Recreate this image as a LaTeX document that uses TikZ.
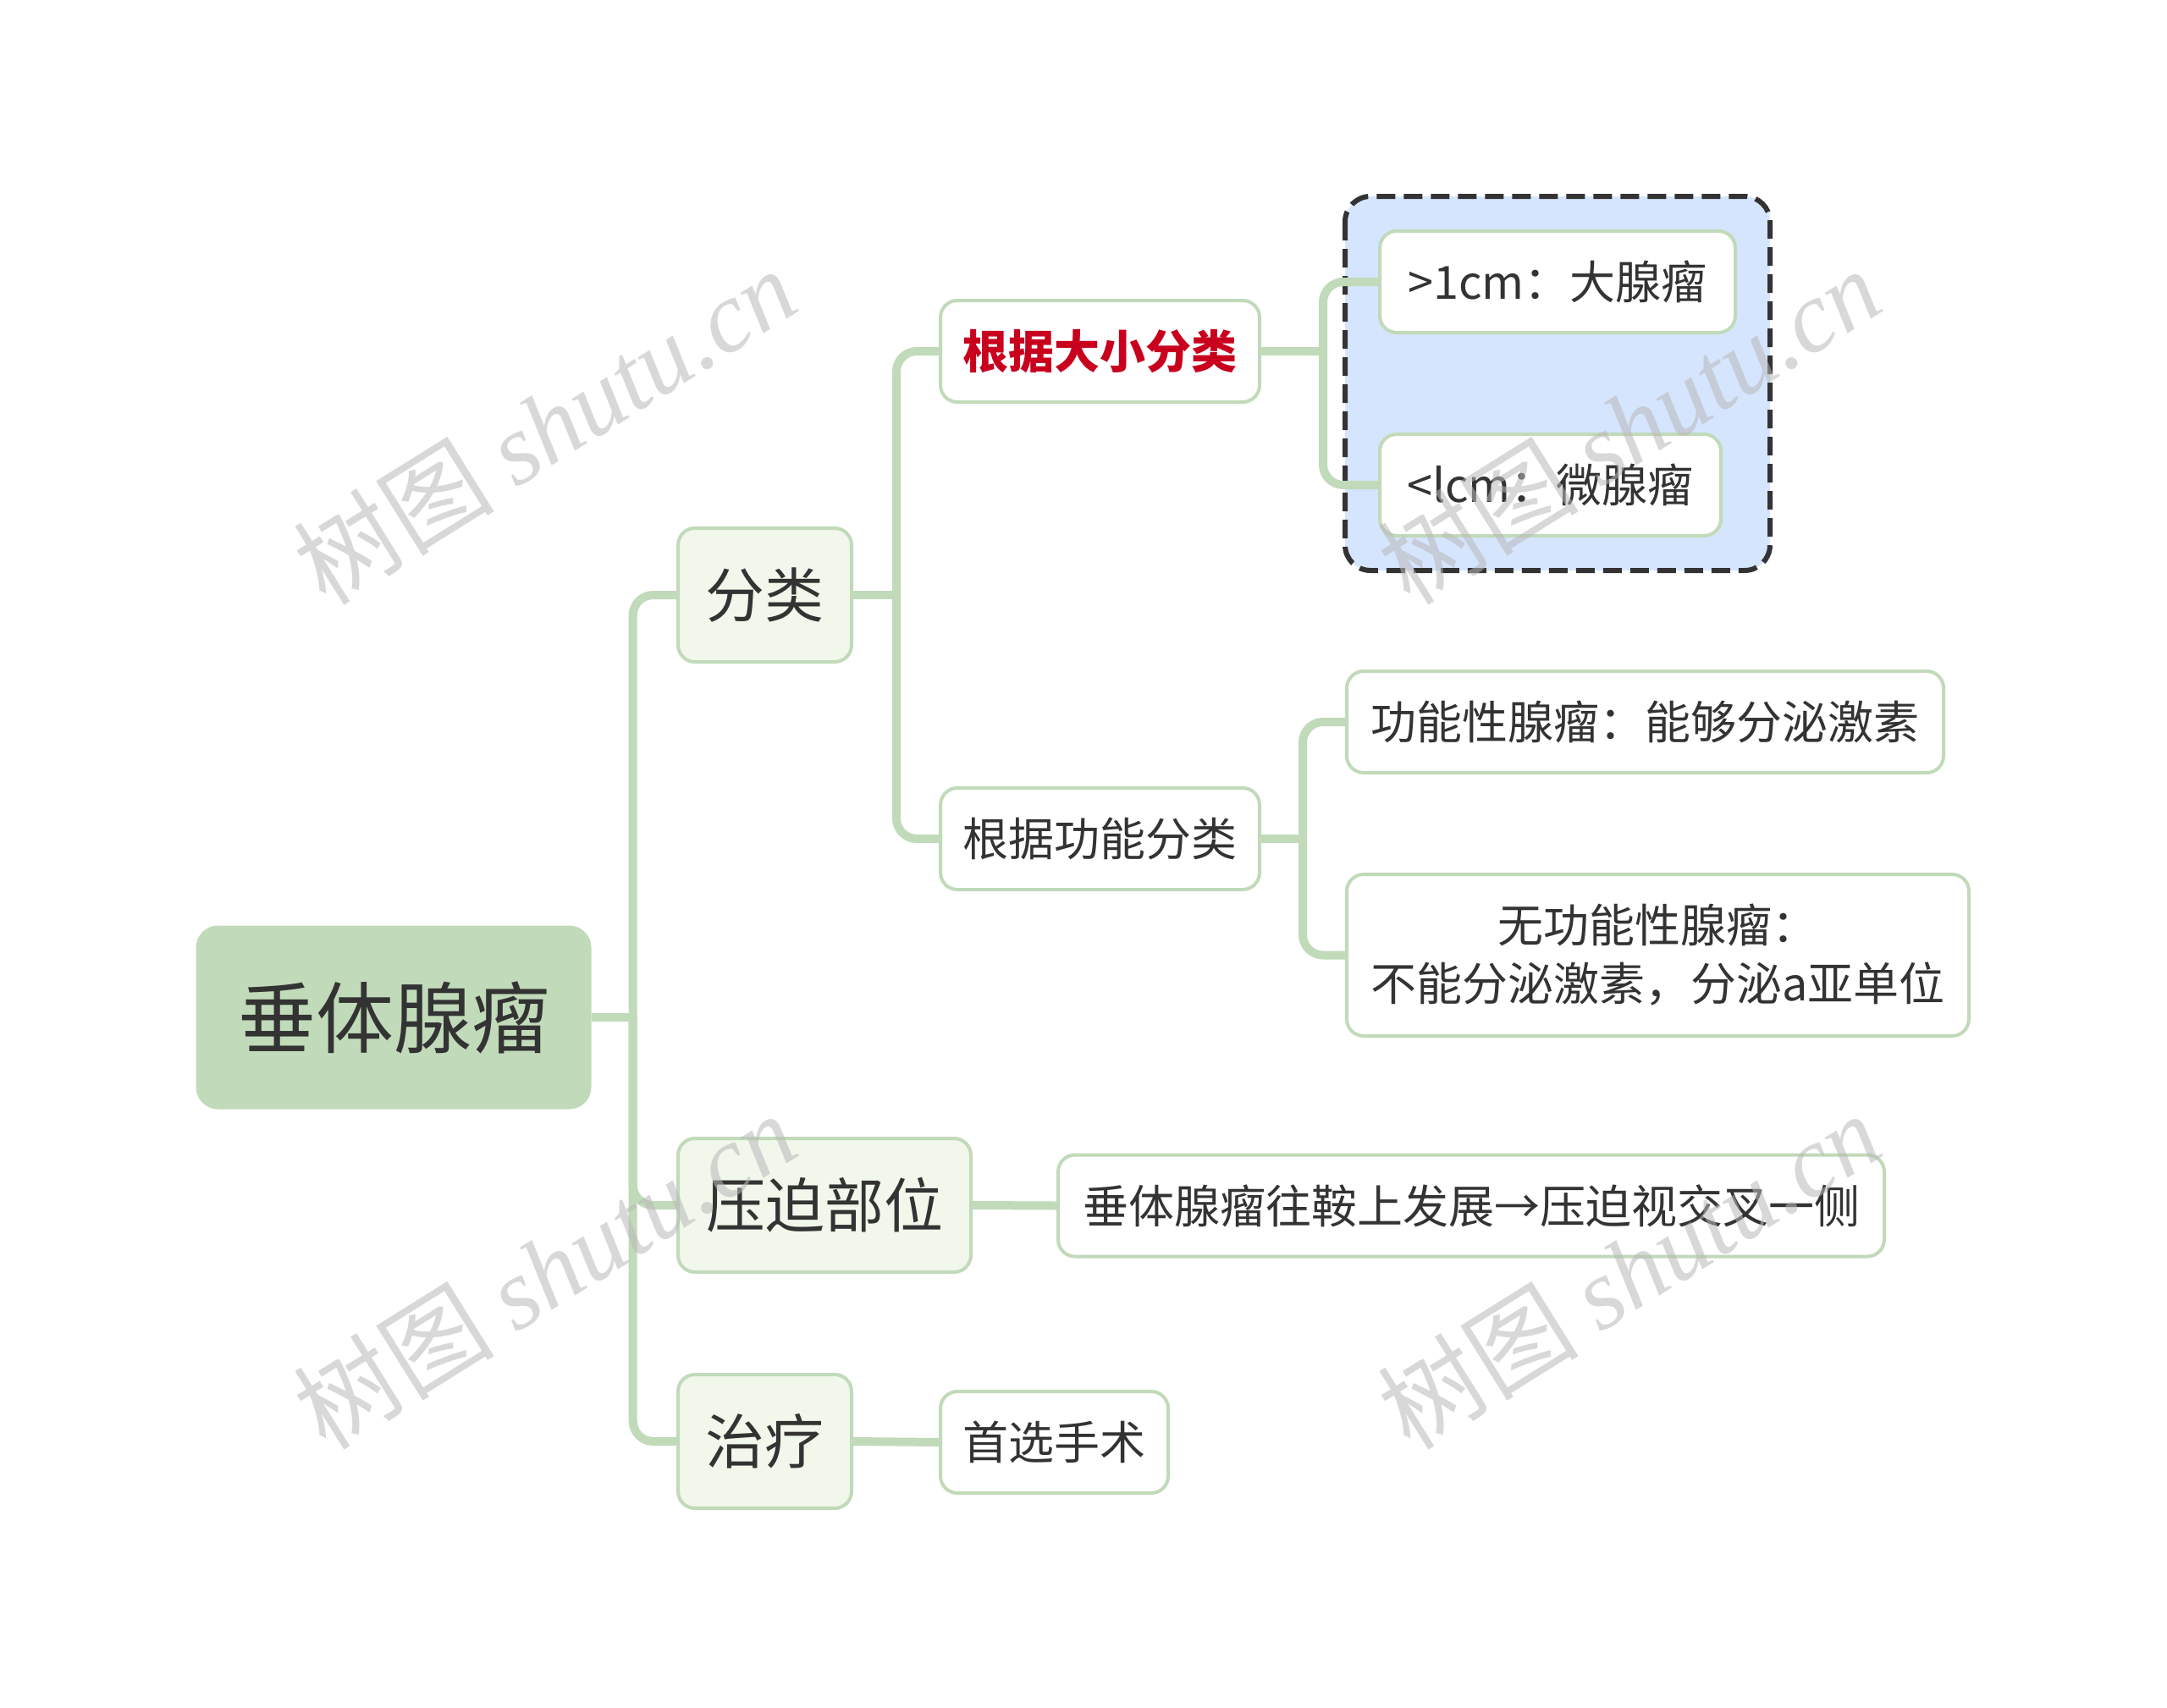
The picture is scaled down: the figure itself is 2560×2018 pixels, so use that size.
\documentclass[tikz,border=0pt]{standalone}
\usepackage{fontspec}
\setmainfont{Noto Sans CJK SC}
\newfontfamily\wmlatin{Liberation Serif}
\usetikzlibrary{calc}
\definecolor{rootfill}{HTML}{C1DAB9}
\definecolor{lonefill}{HTML}{F1F7EA}
\definecolor{lineg}{HTML}{C1DAB9}
\definecolor{txt}{HTML}{333333}
\definecolor{redtxt}{HTML}{C8001E}
\definecolor{bluefill}{HTML}{D5E5FD}
\definecolor{dashc}{HTML}{333333}
\definecolor{wm}{HTML}{B8B8B8}
\tikzset{
  rootbox/.style={rounded corners=26pt, fill=rootfill, draw=none, minimum width=467pt, minimum height=217pt, inner sep=0pt, text=txt, font=\fontsize{92}{110}\selectfont},
  lonebox/.style={rounded corners=20pt, fill=lonefill, draw=lineg, line width=4pt, minimum height=158pt, inner sep=0pt, text=txt, font=\fontsize{70}{84}\selectfont},
  ltwobox/.style={rounded corners=20pt, fill=white, draw=lineg, line width=4pt, minimum height=120pt, inner sep=0pt, text=txt, font=\fontsize{54}{69}\selectfont, align=center},
  conn/.style={draw=lineg, line width=10pt, rounded corners=24pt},
  stub/.style={draw=lineg, line width=10pt},
  wmtext/.style={text=wm, opacity=0.55, rotate=32, inner sep=0pt, font=\fontsize{119}{130}\selectfont}
}
\begin{document}
\begin{tikzpicture}[x=1pt,y=-1pt]
\useasboundingbox[fill=white] (0,0) rectangle (2560,2018);
% dashed group box
\draw[fill=bluefill, draw=dashc, line width=6pt, dash pattern=on 22pt off 10pt, rounded corners=30pt] (1589,232) rectangle (2091,674);
% nodes
\node[rootbox] (root) at (465,1202) {垂体腺瘤};
\node[lonebox, minimum width=205pt] (fl) at (903.5,703) {分类};
\node[lonebox, minimum width=346pt] (yp) at (974,1424) {压迫部位};
\node[lonebox, minimum width=205pt] (zl) at (903.5,1703) {治疗};
\node[ltwobox, minimum width=377pt, text=redtxt, font=\fontsize{54}{69}\selectfont\bfseries] (dx) at (1299.5,415) {根据大小分类};
\node[ltwobox, minimum width=377pt] (gn) at (1299.5,991) {根据功能分类};
\node[ltwobox, minimum width=420pt] (big) at (1840,333) {>1cm：大腺瘤};
\node[ltwobox, minimum width=403pt] (small) at (1831.5,573) {<lcm：微腺瘤};
\node[ltwobox, minimum width=705pt] (gnx) at (1943.5,853) {功能性腺瘤：能够分泌激素};
\node[ltwobox, minimum width=735pt, minimum height=191pt] (wgn) at (1958.5,1128.5) {无功能性腺瘤：\\不能分泌激素，分泌a亚单位};
\node[ltwobox, minimum width=976pt] (ypx) at (1738,1424.5) {垂体腺瘤往鞍上发展→压迫视交叉一侧};
\node[ltwobox, minimum width=269pt] (ss) at (1245.5,1704) {首选手术};
% junction points
\coordinate (jr) at ($(root.east)+(49,0)$);
\coordinate (jf) at ($(fl.east)+(51,0)$);
\coordinate (jd) at ($(dx.east)+(73,0)$);
\coordinate (jg) at ($(gn.east)+(49,0)$);
% connectors
\draw[stub] (root.east) -- (jr);
\draw[conn] (jr) |- (fl.west);
\draw[conn] (jr) |- (yp.west);
\draw[conn] (jr) |- (zl.west);
\draw[stub] (fl.east) -- (jf);
\draw[conn] (jf) |- (dx.west);
\draw[conn] (jf) |- (gn.west);
\draw[stub] (dx.east) -- (jd);
\draw[conn] (jd) |- (big.west);
\draw[conn] (jd) |- (small.west);
\draw[stub] (gn.east) -- (jg);
\draw[conn] (jg) |- (gnx.west);
\draw[conn] (jg) |- (wgn.west);
\draw[stub] (yp.east) -- (ypx.west);
\draw[stub] (zl.east) -- (ss.west);
% watermarks
\node[wmtext] (wm1) at (643,503) {树图 {\wmlatin\itshape shutu.cn}};
\node[wmtext] (wm2) at (1924,503) {树图 {\wmlatin\itshape shutu.cn}};
\node[wmtext] (wm3) at (643,1501) {树图 {\wmlatin\itshape shutu.cn}};
\node[wmtext] (wm4) at (1924,1501) {树图 {\wmlatin\itshape shutu.cn}};
\end{tikzpicture}
\end{document}
